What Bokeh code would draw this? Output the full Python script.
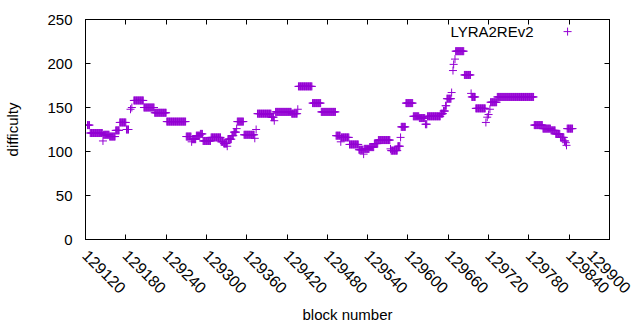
import math
import numpy as np
from bokeh.plotting import figure
from bokeh.models import (Range1d, LinearAxis, FixedTicker, BasicTickFormatter,
                          CustomJSTickFormatter, Label, ColumnDataSource)
from bokeh.embed import file_html
from bokeh.resources import INLINE

# ---- data (difficulty per LYRA2REv2 block) ----
seg_start = [129123, 129127, 129147, 129156, 129165, 129171, 129181, 129192, 129207, 129223,
             129241, 129270, 129279, 129285, 129291, 129295, 129307, 129322, 129326, 129332,
             129338, 129341, 129346, 129356, 129376, 129397, 129403, 129427, 129437, 129458,
             129471, 129493, 129501, 129513, 129527, 129535, 129543, 129550, 129556, 129575,
             129585, 129590, 129597, 129608, 129617, 129626, 129629, 129649, 129653, 129656,
             129658, 129671, 129684, 129695, 129701, 129723, 129733, 129788, 129801, 129813,
             129820, 129827, 129833, 129837]
seg_end = [129126, 129145, 129155, 129164, 129170, 129180, 129184, 129206, 129222, 129240,
           129269, 129277, 129284, 129290, 129294, 129306, 129321, 129325, 129330, 129337,
           129340, 129344, 129355, 129371, 129396, 129400, 129426, 129435, 129457, 129470,
           129492, 129499, 129512, 129526, 129533, 129542, 129549, 129555, 129573, 129584,
           129588, 129596, 129607, 129616, 129625, 129628, 129648, 129652, 129655, 129657,
           129664, 129683, 129693, 129700, 129715, 129732, 129787, 129800, 129812, 129819,
           129826, 129832, 129834, 129845]
seg_value = [130, 121, 119, 117, 124, 133, 125, 158, 150, 144,
             134, 117, 114, 118, 120, 112, 116, 111, 109, 114,
             118, 122, 134, 119, 143, 139, 145, 143, 174, 155,
             145, 118, 116, 108, 102, 103, 105, 109, 113, 101,
             106, 128, 155, 140, 138, 131, 140, 143, 146, 152,
             160, 214, 187, 162, 149, 156, 162, 130, 126, 124,
             120, 116, 112, 126]
single_block = [129146, 129187, 129189, 129278, 129331, 129345, 129372, 129374, 129401, 129436,
                129500, 129534, 129574, 129589, 129665, 129667, 129668, 129670, 129694, 129716,
                129718, 129720, 129722, 129835, 129836]
single_value = [112, 148, 150, 111, 106, 126, 115, 125, 135, 148,
                111, 97, 103, 116, 167, 192, 199, 205, 166, 133,
                139, 142, 148, 110, 107]

x_ticks = [129120, 129180, 129240, 129300, 129360, 129420, 129480, 129540,
           129600, 129660, 129720, 129780, 129840, 129900]
y_ticks = [0, 50, 100, 150, 200, 250]
series_name = "LYRA2REv2"

blocks = np.concatenate([np.arange(s, e + 1) for s, e in zip(seg_start, seg_end)]
                        + [np.array(single_block)])
values = np.concatenate([np.full(e - s + 1, v, dtype=float)
                         for s, e, v in zip(seg_start, seg_end, seg_value)]
                        + [np.array(single_value, dtype=float)])
order = np.argsort(blocks)
src = ColumnDataSource(dict(block=blocks[order], difficulty=values[order]))

FONT = "Liberation Sans"
FS = "15px"
COLOR = "#9400D3"

p = figure(frame_width=524, frame_height=220,
           x_range=Range1d(129120, 129900), y_range=Range1d(0, 250),
           output_backend="svg", toolbar_location=None,
           min_border_left=85, min_border_right=23, min_border_top=19, min_border_bottom=83,
           background_fill_color="white", border_fill_color="white")
p.outline_line_color = "black"
p.outline_line_width = 1
p.grid.visible = False

p.scatter("block", "difficulty", source=src, marker="cross", size=8,
          line_color=COLOR, line_width=1)

def style(ax):
    ax.axis_line_color = "black"
    ax.major_tick_line_color = "black"
    ax.major_tick_in = 5
    ax.major_tick_out = 0
    ax.minor_tick_in = 0
    ax.minor_tick_out = 0
    ax.major_label_text_font = FONT
    ax.major_label_text_font_size = FS
    ax.major_label_text_color = "black"
    ax.axis_label_text_font = FONT
    ax.axis_label_text_font_size = FS
    ax.axis_label_text_font_style = "normal"
    ax.axis_label_text_color = "black"

xa = p.xaxis[0]
xa.ticker = FixedTicker(ticks=x_ticks)
xa.formatter = BasicTickFormatter(use_scientific=False)
xa.major_label_orientation = -math.pi / 4
xa.axis_label = "block number"
style(xa)
xa.major_label_text_font_size = "16px"
xa.major_label_standoff = 13
xa.axis_label_standoff = 4

ya = p.yaxis[0]
ya.ticker = FixedTicker(ticks=y_ticks)
ya.axis_label = "difficulty"
style(ya)
ya.major_label_standoff = 13
ya.axis_label_standoff = 23

blank = CustomJSTickFormatter(code="return ''")
top = LinearAxis(ticker=FixedTicker(ticks=x_ticks), formatter=blank)
style(top)
top.major_label_text_font_size = "0px"
p.add_layout(top, "above")
right = LinearAxis(ticker=FixedTicker(ticks=y_ticks), formatter=blank)
style(right)
right.major_label_text_font_size = "0px"
p.add_layout(right, "right")

# key (gnuplot style: text then sample)
p.extra_x_ranges["key"] = Range1d(0, 1)
p.extra_y_ranges["key"] = Range1d(0, 1)
p.add_layout(Label(x=0.855, y=0.945, x_range_name="key", y_range_name="key",
                   text=series_name, text_align="right", text_baseline="middle",
                   text_font=FONT, text_font_size=FS, text_color="black"))
key_src = ColumnDataSource(dict(x=[0.92], y=[0.945]))
p.scatter("x", "y", source=key_src, x_range_name="key", y_range_name="key",
          marker="cross", size=8, line_color=COLOR, line_width=1)

open("out.html", "w").write(file_html(p, INLINE))
